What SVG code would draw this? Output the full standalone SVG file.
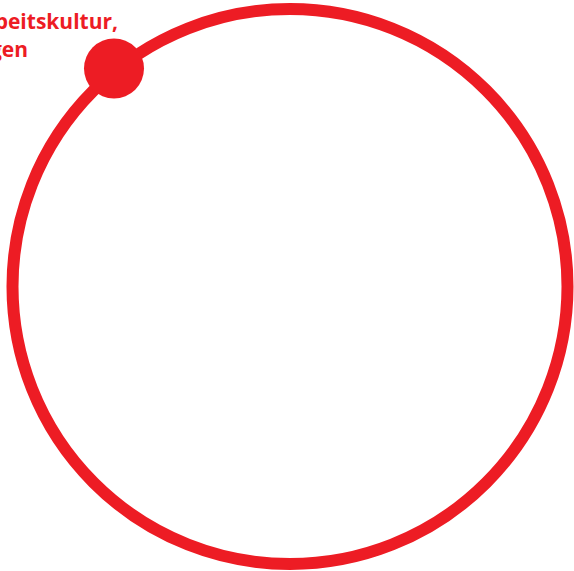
<svg xmlns="http://www.w3.org/2000/svg" width="574" height="571" viewBox="0 0 574 571">
<style>
.lbl{font-family:"Open Sans","Liberation Sans",sans-serif;font-weight:700;font-size:21px;fill:#ED1C24;}
</style>
<rect width="574" height="571" fill="#ffffff"/>
<g id="ring">
<circle cx="290" cy="286.5" r="277.5" fill="none" stroke="#ED1C24" stroke-width="12"/>
</g>
<g id="dot">
<circle cx="114" cy="68.5" r="30" fill="#ED1C24"/>
</g>
<g id="label">
<text class="lbl" x="118" y="29" text-anchor="end">beitskultur,</text>
<text class="lbl" x="28" y="57" text-anchor="end">gen</text>
</g>
</svg>
